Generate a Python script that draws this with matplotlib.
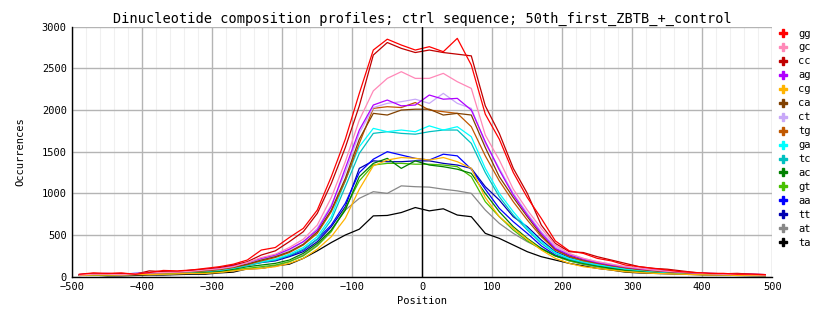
import numpy as np
import matplotlib
matplotlib.use("Agg")
import matplotlib.pyplot as plt
from matplotlib.lines import Line2D
from matplotlib.ticker import MultipleLocator

plt.rcParams['font.family'] = ['DejaVu Sans Mono']

# bin centres, every 20 bp
positions = np.arange(-490, 491, 20)

names = ['gg', 'gc', 'cc', 'ag', 'cg', 'ca', 'ct', 'tg',
         'ga', 'tc', 'ac', 'gt', 'aa', 'tt', 'at', 'ta']
colors = ['#ff0000', '#ff88b8', '#c00000', '#b000ff', '#ffb400', '#804000',
          '#c8a8f8', '#c05800', '#00ffff', '#00c0c0', '#008000', '#48c000',
          '#0000ff', '#0000b0', '#888888', '#000000']

gg = [30, 45, 40, 45, 30, 50, 75, 70, 80, 100,
      120, 150, 200, 320, 350, 470, 580, 800, 1200, 1650,
      2200, 2720, 2850, 2780, 2720, 2760, 2700, 2860, 2540, 1950,
      1650, 1250, 950, 700, 430, 310, 280, 220, 190, 140,
      120, 100, 80, 60, 50, 40, 40, 30, 30, 25]
gc = [20, 30, 30, 25, 35, 45, 50, 55, 65, 80,
      95, 120, 170, 230, 270, 350, 450, 620, 950, 1380,
      1880, 2230, 2380, 2460, 2380, 2380, 2440, 2340, 2260, 1700,
      1400, 1050, 800, 580, 380, 280, 220, 180, 150, 120,
      100, 80, 65, 55, 45, 35, 30, 28, 25, 20]
cc = [25, 40, 35, 40, 30, 70, 60, 60, 80, 90,
      110, 140, 180, 260, 310, 420, 540, 760, 1120, 1550,
      2050, 2660, 2810, 2740, 2690, 2720, 2690, 2670, 2650, 2050,
      1720, 1300, 1000, 620, 400, 300, 290, 240, 200, 160,
      120, 100, 90, 70, 50, 40, 35, 40, 30, 25]
ag = [25, 35, 40, 30, 40, 50, 55, 60, 75, 90,
      100, 130, 170, 220, 260, 330, 420, 560, 840, 1300,
      1760, 2060, 2120, 2050, 2060, 2180, 2130, 2140, 2000, 1620,
      1280, 980, 740, 520, 340, 260, 210, 170, 140, 115,
      95, 80, 65, 55, 45, 40, 35, 30, 30, 25]
cg = [15, 20, 20, 20, 25, 25, 30, 35, 40, 40,
      50, 70, 90, 100, 120, 160, 220, 330, 480, 700,
      1050, 1330, 1400, 1430, 1420, 1400, 1430, 1380, 1300, 950,
      720, 580, 450, 320, 220, 160, 120, 100, 80, 60,
      50, 40, 35, 30, 25, 20, 20, 15, 15, 12]
ca = [20, 30, 30, 35, 35, 45, 50, 55, 65, 75,
      90, 115, 150, 200, 240, 300, 390, 540, 800, 1180,
      1650, 1960, 1940, 2000, 2010, 2010, 1940, 1960, 1940, 1550,
      1200, 950, 720, 500, 330, 250, 200, 165, 135, 110,
      90, 75, 60, 50, 40, 35, 30, 28, 25, 20]
ct = [25, 35, 30, 35, 40, 45, 50, 60, 70, 80,
      95, 125, 165, 210, 250, 320, 420, 580, 860, 1250,
      1720, 2030, 2080, 2100, 2130, 2080, 2200, 2080, 2020, 1600,
      1300, 1000, 760, 540, 360, 270, 220, 180, 150, 120,
      100, 85, 70, 55, 45, 40, 35, 30, 30, 25]
tg = [20, 30, 30, 30, 35, 40, 45, 55, 60, 70,
      85, 110, 145, 190, 230, 290, 380, 520, 780, 1150,
      1600, 2020, 2040, 2030, 2090, 2000, 1980, 1960, 1800, 1450,
      1150, 900, 680, 480, 320, 240, 190, 160, 130, 105,
      85, 70, 60, 50, 40, 35, 30, 25, 25, 20]
ga = [20, 30, 30, 30, 40, 45, 50, 55, 60, 70,
      80, 105, 140, 180, 210, 270, 350, 480, 720, 1150,
      1560, 1780, 1740, 1760, 1740, 1810, 1760, 1800, 1680, 1300,
      1000, 780, 580, 420, 290, 220, 180, 145, 120, 95,
      80, 65, 55, 45, 40, 35, 30, 25, 25, 20]
tc = [20, 25, 30, 30, 35, 40, 45, 50, 55, 65,
      75, 100, 130, 170, 200, 255, 330, 450, 680, 1080,
      1480, 1720, 1740, 1720, 1710, 1740, 1760, 1760, 1600, 1250,
      960, 740, 560, 400, 280, 210, 170, 140, 115, 90,
      75, 60, 50, 45, 35, 30, 30, 25, 20, 20]
ac = [20, 25, 25, 30, 35, 40, 45, 45, 50, 55,
      60, 90, 120, 140, 160, 200, 280, 400, 560, 800,
      1200, 1360, 1420, 1300, 1390, 1340, 1320, 1290, 1240, 1000,
      780, 600, 460, 340, 250, 200, 160, 130, 100, 80,
      70, 60, 50, 45, 40, 35, 30, 30, 25, 20]
gt = [15, 20, 20, 25, 30, 35, 35, 40, 45, 50,
      55, 80, 100, 120, 140, 180, 250, 370, 540, 820,
      1150, 1340, 1360, 1360, 1350, 1350, 1340, 1320, 1200, 900,
      720, 560, 430, 330, 250, 190, 150, 120, 95, 75,
      65, 55, 45, 40, 35, 30, 25, 25, 20, 15]
aa = [25, 30, 30, 25, 30, 40, 45, 55, 60, 70,
      80, 110, 150, 180, 200, 250, 320, 450, 620, 880,
      1250, 1410, 1500, 1460, 1420, 1400, 1470, 1450, 1290, 1050,
      820, 660, 520, 370, 260, 200, 160, 130, 110, 90,
      75, 60, 55, 45, 40, 30, 30, 25, 25, 20]
tt = [20, 25, 25, 25, 30, 35, 40, 50, 55, 65,
      75, 100, 140, 170, 190, 240, 300, 420, 600, 840,
      1300, 1390, 1380, 1380, 1390, 1390, 1360, 1340, 1300, 1080,
      920, 720, 600, 440, 300, 230, 180, 145, 115, 95,
      80, 65, 55, 45, 40, 35, 30, 25, 25, 20]
at = [15, 20, 20, 15, 25, 30, 30, 35, 40, 45,
      55, 70, 90, 100, 130, 180, 260, 380, 560, 800,
      940, 1020, 1000, 1090, 1080, 1075, 1050, 1030, 1000, 800,
      640, 520, 420, 340, 250, 190, 150, 120, 95, 75,
      60, 50, 40, 35, 30, 25, 20, 20, 15, 15]
ta = [20, 20, 10, 10, 15, 20, 20, 25, 30, 30,
      45, 55, 95, 100, 130, 150, 220, 310, 410, 500,
      570, 730, 735, 770, 830, 790, 815, 740, 720, 520,
      460, 380, 300, 240, 200, 160, 130, 100, 80, 55,
      45, 40, 35, 30, 25, 20, 18, 15, 12, 10]

series = [gg, gc, cc, ag, cg, ca, ct, tg, ga, tc, ac, gt, aa, tt, at, ta]

fig = plt.figure(figsize=(8.34, 3.28), dpi=100)
ax = fig.add_axes([0.0867, 0.1564, 0.8393, 0.7622])

for vals, col in zip(series[::-1], colors[::-1]):
    ax.plot(positions, vals, color=col, lw=0.9)

ax.axvline(0, color='black', lw=1)

ax.set_xlim(-500, 500)
ax.set_ylim(0, 3000)
ax.xaxis.set_major_locator(MultipleLocator(100))
ax.xaxis.set_minor_locator(MultipleLocator(20))
ax.yaxis.set_major_locator(MultipleLocator(500))
ax.grid(which='major', color='#b4b4b4', lw=1)
ax.grid(which='minor', axis='x', color='#f0f0f0', lw=0.8)
ax.set_axisbelow(True)
for s in ['top', 'right']:
    ax.spines[s].set_visible(False)
ax.spines['left'].set_linewidth(1)
ax.spines['bottom'].set_linewidth(1)
ax.tick_params(which='major', labelsize=7.5, length=0, pad=4)
ax.tick_params(which='minor', length=0)

ax.set_xlabel('Position', fontsize=7.5, labelpad=3)
ax.set_ylabel('Occurrences', fontsize=7.5, labelpad=12)
ax.set_title('Dinucleotide composition profiles; ctrl sequence; 50th_first_ZBTB_+_control',
             fontsize=9.8, pad=3)

handles = [Line2D([], [], ls='none', marker='P', ms=6, color=c) for c in colors]
fig.legend(handles, names, loc='upper left', bbox_to_anchor=(0.933, 0.913),
           frameon=False, fontsize=7.5, handlelength=1.0, handletextpad=0.9,
           labelspacing=0.38, borderaxespad=0, borderpad=0)

fig.savefig('out.png', dpi=100)
